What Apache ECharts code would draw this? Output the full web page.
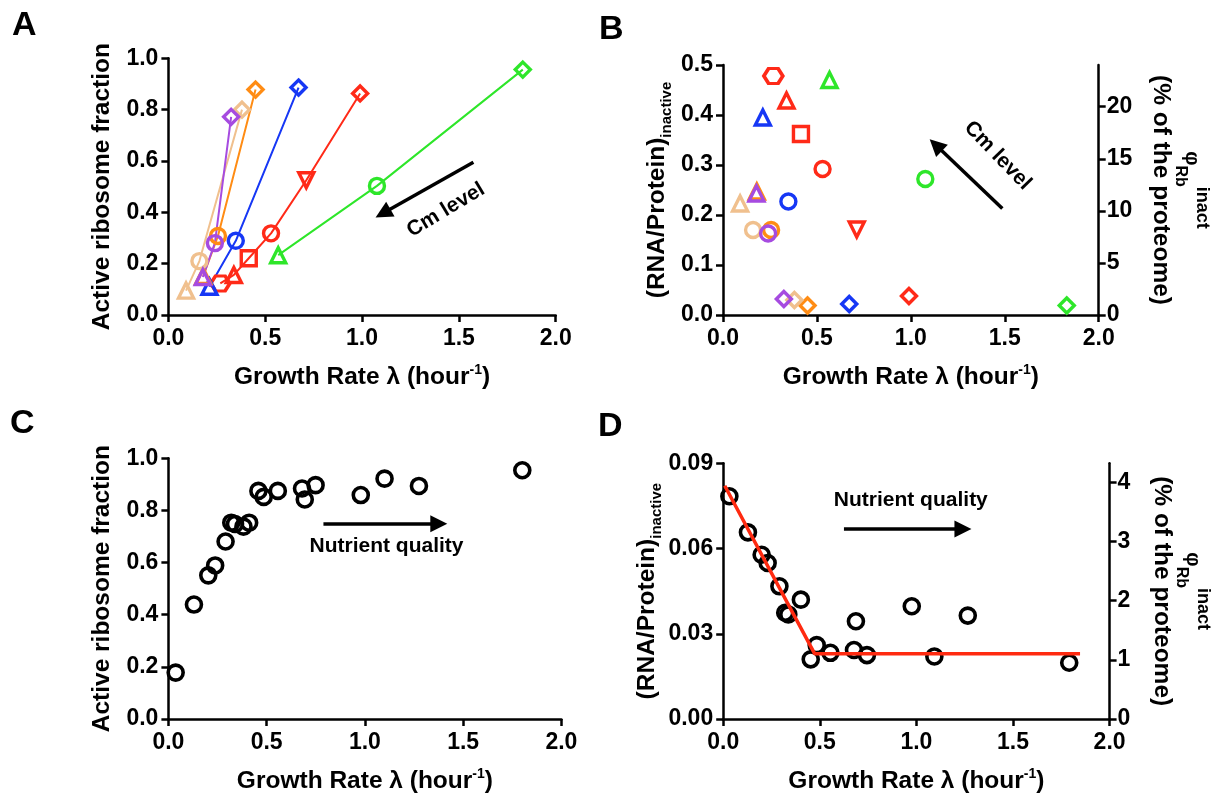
<!DOCTYPE html>
<html>
<head>
<meta charset="utf-8">
<script src="https://cdn.jsdelivr.net/npm/echarts@6/dist/echarts.min.js"></script>
<style>
  html, body { margin: 0; padding: 0; background: #fff; }
  #chart { width: 1217px; height: 796px; }
</style>
</head>
<body>
<div id="chart"></div>
<script>
// growth rate (1/h), active ribosome fraction (A), inactive RNA/protein (B), Cm step
// Cm step: 0 = no Cm, higher = more chloramphenicol
const greenLam = [1.83, 1.077, 0.567];
const greenAct = [0.956, 0.503, 0.233];
const greenInact = [0.019, 0.272, 0.470];
const greenCm = [0, 2, 4];

const redLam = [0.99, 0.712, 0.53, 0.415, 0.338, 0.268];
const redAct = [0.863, 0.525, 0.318, 0.221, 0.156, 0.123];
const redInact = [0.038, 0.171, 0.292, 0.362, 0.429, 0.478];
const redCm = [0, 1, 2, 3, 4, 5];

const blueLam = [0.672, 0.348, 0.212];
const blueAct = [0.886, 0.289, 0.110];
const blueInact = [0.022, 0.227, 0.395];
const blueCm = [0, 2, 4];

const orangeLam = [0.45, 0.256, 0.18];
const orangeAct = [0.878, 0.308, 0.152];
const orangeInact = [0.019, 0.170, 0.247];
const orangeCm = [0, 2, 4];

const tanLam = [0.38, 0.16, 0.091];
const tanAct = [0.800, 0.210, 0.095];
const tanInact = [0.030, 0.170, 0.223];
const tanCm = [0, 2, 4];

const purpleLam = [0.324, 0.24, 0.178];
const purpleAct = [0.772, 0.280, 0.148];
const purpleInact = [0.032, 0.163, 0.243];
const purpleCm = [0, 2, 4];

// panel C / D: nutrient limitation only
const cLam = [0.037, 0.13, 0.203, 0.238, 0.291, 0.32, 0.339, 0.382, 0.411, 0.458, 0.485, 0.557, 0.68, 0.694, 0.749, 0.979, 1.10, 1.275, 1.801];
const cAct = [0.178, 0.439, 0.551, 0.589, 0.681, 0.753, 0.748, 0.738, 0.753, 0.875, 0.852, 0.875, 0.884, 0.842, 0.897, 0.859, 0.922, 0.894, 0.954];

const dLam = [0.032, 0.128, 0.199, 0.23, 0.291, 0.321, 0.337, 0.402, 0.453, 0.484, 0.555, 0.677, 0.687, 0.744, 0.976, 1.093, 1.266, 1.791];
const dInact = [0.0784, 0.0657, 0.0578, 0.0549, 0.0467, 0.0374, 0.0368, 0.042, 0.021, 0.026, 0.0233, 0.0243, 0.0344, 0.0225, 0.0397, 0.022, 0.0364, 0.0198];

// piecewise fit in D
const fitLam = [0.008, 0.473, 1.847];
const fitInact = [0.0821, 0.0230, 0.0230];

const bRightTicks = [0, 5, 10, 15, 20];
const dRightTicks = [0, 1, 2, 3, 4];

const FONT = 'Liberation Sans, Arial, Helvetica, sans-serif';
const HEX = 'path://M-1,0L-0.5,-0.866L0.5,-0.866L1,0L0.5,0.866L-0.5,0.866Z';
const cmSymbol = ['diamond', 'triangle', 'circle', 'rect', 'triangle', HEX];
const cmRotate = [0, 180, 0, 0, 0, 0];

const media = [
  { color: '#2ee62a', lam: greenLam, act: greenAct, inact: greenInact, cm: greenCm },
  { color: '#ff2a18', lam: redLam, act: redAct, inact: redInact, cm: redCm },
  { color: '#1637f5', lam: blueLam, act: blueAct, inact: blueInact, cm: blueCm },
  { color: '#ff8c14', lam: orangeLam, act: orangeAct, inact: orangeInact, cm: orangeCm },
  { color: '#f0c08e', lam: tanLam, act: tanAct, inact: tanInact, cm: tanCm },
  { color: '#a64be0', lam: purpleLam, act: purpleAct, inact: purpleInact, cm: purpleCm }
];

function cmPoint(x, y, step) {
  return {
    value: [x, y],
    symbol: cmSymbol[step],
    symbolRotate: cmRotate[step],
    symbolSize: step === 5 ? [19, 15] : 15
  };
}

const axisBase = {
  axisLine: { show: true, onZero: false, lineStyle: { color: '#000', width: 2.5 } },
  axisTick: { show: true, length: 7, lineStyle: { color: '#000', width: 2.5 } },
  splitLine: { show: false },
  nameLocation: 'middle',
  nameTextStyle: { color: '#000', fontFamily: FONT, fontWeight: 'bold', fontSize: 24.5, lineHeight: 26 }
};

function labelStyle(margin, fmt) {
  return { color: '#000', fontFamily: FONT, fontWeight: 'bold', fontSize: 23, margin: margin, formatter: fmt };
}

const growthName = 'Growth Rate λ (hour{sup|-1})';
const growthRich = {
  sup: { fontFamily: FONT, fontWeight: 'bold', fontSize: 14, lineHeight: 12, verticalAlign: 'top', color: '#000' }
};

function xAxisFor(grid) {
  return Object.assign({}, axisBase, {
    type: 'value', gridIndex: grid, min: 0, max: 2, interval: 0.5,
    axisLabel: labelStyle(12, v => v.toFixed(1)),
    name: growthName, nameGap: 48,
    nameTextStyle: Object.assign({}, axisBase.nameTextStyle, { lineHeight: 28, rich: growthRich })
  });
}

const inactName = '(RNA/Protein){sub|inactive}';
const inactStyle = Object.assign({}, axisBase.nameTextStyle, {
  lineHeight: 34,
  rich: { sub: { fontFamily: FONT, fontWeight: 'bold', fontSize: 15, lineHeight: 12, verticalAlign: 'bottom', color: '#000' } }
});

const phiName = '{phi|φ}{sub|Rb}{sup|inact}\n(% of the proteome)';
const phiStyle = Object.assign({}, axisBase.nameTextStyle, {
  lineHeight: 24,
  rich: {
    phi: { fontFamily: FONT, fontSize: 20, lineHeight: 38, color: '#000' },
    sub: { fontFamily: FONT, fontWeight: 'bold', fontSize: 16, lineHeight: 14, verticalAlign: 'bottom', color: '#000' },
    sup: { fontFamily: FONT, fontWeight: 'bold', fontSize: 18, lineHeight: 14, verticalAlign: 'top', color: '#000' }
  }
});

const hollow = c => ({ color: 'rgba(0,0,0,0)', borderColor: c, borderWidth: 3.4, opacity: 1 });

const series = [];

// Panel A: lines per medium
media.forEach(m => {
  series.push({
    type: 'line', xAxisIndex: 0, yAxisIndex: 0,
    data: m.lam.map((x, i) => cmPoint(x, m.act[i], m.cm[i])),
    lineStyle: { color: m.color, width: 2 },
    itemStyle: hollow(m.color),
    showAllSymbol: true, silent: true, animation: false
  });
});

// Panel B: scatter per medium
media.forEach(m => {
  series.push({
    type: 'scatter', xAxisIndex: 1, yAxisIndex: 1,
    data: m.lam.map((x, i) => cmPoint(x, m.inact[i], m.cm[i])),
    itemStyle: hollow(m.color),
    silent: true, animation: false
  });
});

// Panel C
series.push({
  type: 'scatter', xAxisIndex: 2, yAxisIndex: 3,
  data: cLam.map((x, i) => [x, cAct[i]]),
  symbol: 'circle', symbolSize: 15,
  itemStyle: { color: 'rgba(0,0,0,0)', borderColor: '#000', borderWidth: 3.6, opacity: 1 },
  silent: true, animation: false
});

// Panel D
series.push({
  type: 'scatter', xAxisIndex: 3, yAxisIndex: 4,
  data: dLam.map((x, i) => [x, dInact[i]]),
  symbol: 'circle', symbolSize: 15,
  itemStyle: { color: 'rgba(0,0,0,0)', borderColor: '#000', borderWidth: 3.6, opacity: 1 },
  silent: true, animation: false
});
series.push({
  type: 'line', xAxisIndex: 3, yAxisIndex: 4, z: 5,
  data: fitLam.map((x, i) => [x, fitInact[i]]),
  symbol: 'none', lineStyle: { color: '#ff2a10', width: 3.5 },
  silent: true, animation: false
});

// annotations: text + arrow
function note(xi, yi, pos, text, rot, from, to) {
  return {
    type: 'scatter', xAxisIndex: xi, yAxisIndex: yi, z: 6,
    data: [pos], symbolSize: 0, silent: true, animation: false,
    itemStyle: { opacity: 1 },
    label: {
      show: true, position: 'inside', formatter: text, rotate: rot,
      color: '#000', fontFamily: FONT, fontWeight: 'bold', fontSize: 21
    },
    markLine: {
      silent: true, animation: false,
      symbol: ['none', 'triangle'], symbolSize: 17,
      label: { show: false },
      lineStyle: { type: 'solid', color: '#000', width: 3.5, opacity: 1 },
      data: [[{ coord: from }, { coord: to }]]
    }
  };
}
series.push(note(0, 0, [1.433, 0.409], 'Cm level', 31, [1.575, 0.595], [1.108, 0.396]));
series.push(note(1, 1, [1.462, 0.319], 'Cm level', -46, [1.487, 0.213], [1.133, 0.340]));
series.push(note(2, 3, [1.110, 0.662], 'Nutrient quality', 0, [0.789, 0.749], [1.376, 0.749]));
series.push(note(3, 4, [0.971, 0.0771], 'Nutrient quality', 0, [0.625, 0.0669], [1.241, 0.0669]));

const option = {
  backgroundColor: '#fff',
  animation: false,
  grid: [
    { left: 168.4, top: 58.3, width: 387.3, height: 256.7 },
    { left: 723, top: 65, width: 375.7, height: 250 },
    { left: 168.4, top: 458.3, width: 393, height: 261.7 },
    { left: 723.2, top: 463.3, width: 386.4, height: 256.7 }
  ],
  xAxis: [xAxisFor(0), xAxisFor(1), xAxisFor(2), xAxisFor(3)],
  yAxis: [
    Object.assign({}, axisBase, {
      type: 'value', gridIndex: 0, min: 0, max: 1, interval: 0.2,
      axisLabel: labelStyle(10, v => v.toFixed(1)),
      name: 'Active ribosome fraction', nameGap: 53
    }),
    Object.assign({}, axisBase, {
      type: 'value', gridIndex: 1, min: 0, max: 0.5, interval: 0.1,
      axisLabel: labelStyle(10, v => v.toFixed(1)),
      name: inactName, nameGap: 49, nameTextStyle: inactStyle
    }),
    Object.assign({}, axisBase, {
      type: 'value', gridIndex: 1, position: 'right', min: 0, max: 24,
      axisTick: Object.assign({}, axisBase.axisTick, { customValues: bRightTicks }),
      axisLabel: Object.assign(labelStyle(8, v => String(v)), { customValues: bRightTicks }),
      name: phiName, nameGap: 50, nameRotate: -90, nameTextStyle: phiStyle
    }),
    Object.assign({}, axisBase, {
      type: 'value', gridIndex: 2, min: 0, max: 1, interval: 0.2,
      axisLabel: labelStyle(10, v => v.toFixed(1)),
      name: 'Active ribosome fraction', nameGap: 53
    }),
    Object.assign({}, axisBase, {
      type: 'value', gridIndex: 3, min: 0, max: 0.09, interval: 0.03,
      axisLabel: labelStyle(10, v => v.toFixed(2)),
      name: inactName, nameGap: 50, nameTextStyle: inactStyle
    }),
    Object.assign({}, axisBase, {
      type: 'value', gridIndex: 3, position: 'right', min: 0, max: 4.32,
      axisTick: Object.assign({}, axisBase.axisTick, { customValues: dRightTicks }),
      axisLabel: Object.assign(labelStyle(8, v => String(v)), { customValues: dRightTicks }),
      name: phiName, nameGap: 40, nameRotate: -90, nameTextStyle: phiStyle
    })
  ],
  graphic: [
    { type: 'text', left: 12, top: 9, style: { text: 'A', font: 'bold 34px ' + FONT, fill: '#000' } },
    { type: 'text', left: 599, top: 13, style: { text: 'B', font: 'bold 34px ' + FONT, fill: '#000' } },
    { type: 'text', left: 10, top: 407, style: { text: 'C', font: 'bold 34px ' + FONT, fill: '#000' } },
    { type: 'text', left: 598, top: 410, style: { text: 'D', font: 'bold 34px ' + FONT, fill: '#000' } }
  ],
  series: series
};

const chart = echarts.init(document.getElementById('chart'), null, { renderer: 'canvas' });
chart.setOption(option);
</script>
</body>
</html>
